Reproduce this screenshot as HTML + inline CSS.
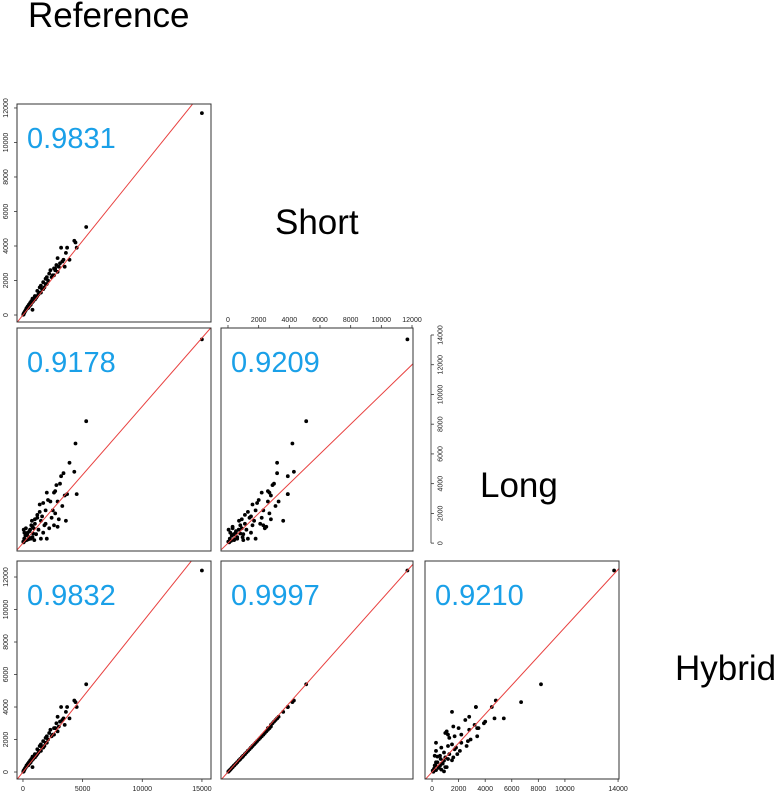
<!DOCTYPE html>
<html><head><meta charset="utf-8">
<style>
html,body{margin:0;padding:0;background:#fff;}
svg{display:block;font-family:"Liberation Sans",Arial,sans-serif;}
</style></head>
<body>
<svg id="chart" width="776" height="798" viewBox="0 0 776 798">
<defs></defs>
<text x="28" y="27" font-size="35" fill="#000">Reference</text>
<text x="275" y="234" font-size="35" fill="#000">Short</text>
<text x="480" y="497" font-size="35" fill="#000">Long</text>
<text x="675" y="680" font-size="35" fill="#000">Hybrid</text>
</svg>
<script>
// data (Reference, Short, Long, Hybrid) per gene
const refVals   = [15000,5300,4400,4300,3700,3900,3400,3200,2900,4500,3500,3100,2700,2600,2800,3300,2300,2500,3600,2100,2000,1900,1700,1600,2200,1800,1500,1400,1300,1200,1100,1000,900,800,700,1500,2600,2900,600,500,400,300,250,200,150,100,50,800,1200,1700,2000,350,450,550,650,750,850,950,120,60,30,1000,1400,1900,2400,2700,3000];
const shortVals = [11700,5100,4200,4300,3900,3200,3200,3900,3300,3900,2800,3000,2600,2700,2900,3100,2600,2300,3600,2000,2200,1800,1900,1500,2400,1600,1700,1300,1200,1400,1000,1100,900,950,800,1300,2300,2500,700,600,500,400,300,250,200,120,80,300,1100,1500,1800,380,420,520,600,720,800,1000,150,40,20,900,1600,2100,2200,2700,2800];
const longVals  = [13700,8200,6700,4800,3300,5400,4700,4500,2800,3300,3200,4000,3500,3400,3900,2500,2800,2200,1500,2900,3400,2200,2700,1800,1000,1200,1500,2100,900,1700,600,1300,1000,400,1200,300,1200,1100,900,400,700,200,1000,500,150,300,50,1100,1900,700,300,600,250,800,300,1500,650,200,700,900,100,1600,2600,1300,1700,2000,1600];
const hybridVals= [12400,5400,4300,4400,4000,3300,3300,4000,3400,4000,2900,3100,2700,2700,3000,3200,2600,2300,3700,2000,2200,1800,1900,1500,2400,1600,1700,1300,1200,1400,1000,1100,900,950,800,1300,2300,2500,700,600,500,400,300,250,200,120,80,300,1100,1500,1800,380,420,520,600,720,800,1000,150,40,20,900,1600,2100,2200,2700,2800];
const corrLabels = ["0.9831","0.9178","0.9209","0.9832","0.9997","0.9210"];
const refTicks = [0,5000,10000,15000];
const shortTicks = [0,2000,4000,6000,8000,10000,12000];
const longTicks = [0,2000,4000,6000,8000,10000,12000,14000];
const longBottomTicks = [0,2000,4000,6000,8000,10000,14000];
const hybridTicks = [0,2000,4000,6000,8000,10000,12000];
const lineSlopes = [0.86,0.92,1.0,0.92,1.06,0.89];

const NS="http://www.w3.org/2000/svg";
const svg=document.getElementById('chart');
function mk(tag,attrs,parent){const e=document.createElementNS(NS,tag);for(const k in attrs)e.setAttribute(k,attrs[k]);(parent||svg).appendChild(e);return e;}

const cols=[{l:17,r:211,d0:-500,d1:15760,v:refVals},{l:221,r:413,d0:-456,d1:12065,v:shortVals},{l:425,r:619,d0:-530,d1:14070,v:longVals}];
const rows=[{t:104,b:322,d0:-405,d1:12230,v:shortVals},{t:328,b:551,d0:-530,d1:14470,v:longVals},{t:561,b:779,d0:-430,d1:12985,v:hybridVals}];
function sx(c,v){return c.l+(v-c.d0)/(c.d1-c.d0)*(c.r-c.l);}
function sy(r,v){return r.b-(v-r.d0)/(r.d1-r.d0)*(r.b-r.t);}
const defs=svg.querySelector('defs');
let k=0;
for(let i=0;i<3;i++){for(let j=0;j<=i;j++){
  const c=cols[j],r=rows[i];
  const g=mk('g',{});
  
  
  const cp=mk('clipPath',{id:'cp'+k},defs);
  mk('rect',{x:c.l,y:r.t,width:c.r-c.l,height:r.b-r.t},cp);
  const pts=mk('g',{'clip-path':'url(#cp'+k+')'},g);
  for(let n=0;n<c.v.length;n++){
    const d=mk('circle',{cx:sx(c,c.v[n]).toFixed(1),cy:sy(r,r.v[n]).toFixed(1),r:1.9,fill:'#000'},pts);
    
    
  }
  const s=lineSlopes[k];
  const ln=mk('line',{x1:sx(c,c.d0),y1:sy(r,c.d0*s),x2:sx(c,c.d1),y2:sy(r,c.d1*s),stroke:'#e8403f','stroke-width':1},pts);
  
  
  const bx=mk('rect',{x:c.l,y:r.t,width:c.r-c.l,height:r.b-r.t,fill:'none',stroke:'#333','stroke-width':1},g);
  
  
  const t=mk('text',{x:c.l+10,y:r.t+44,'font-size':29,fill:'#1aa0e8'},g);
  t.textContent=corrLabels[k];
  
  
  k++;
}}
function yAxis(r,ticks,x,side,name){
  const g=mk('g',{});
  
  
  const dir=side==='left'?-1:1;
  mk('line',{x1:x,y1:sy(r,ticks[0]),x2:x,y2:sy(r,ticks[ticks.length-1]),stroke:'#333','stroke-width':0.8},g);
  ticks.forEach(v=>{const y=sy(r,v);
    mk('line',{x1:x,y1:y,x2:x+dir*3,y2:y,stroke:'#333','stroke-width':0.8},g);
    const tx=x+dir*9;
    const t=mk('text',{x:tx,y:y,'font-size':7,fill:'#222','text-anchor':'middle',transform:'rotate(-90 '+tx+' '+y+')',dy:side==='left'?0:2.5},g);
    t.textContent=v;});
}
function xAxis(c,ticks,y,side,name){
  const g=mk('g',{});
  
  
  const dir=side==='top'?-1:1;
  mk('line',{x1:sx(c,ticks[0]),y1:y,x2:sx(c,ticks[ticks.length-1]),y2:y,stroke:'#333','stroke-width':0.8},g);
  ticks.forEach(v=>{const x=sx(c,v);
    mk('line',{x1:x,y1:y,x2:x,y2:y+dir*3,stroke:'#333','stroke-width':0.8},g);
    const t=mk('text',{x:x,y:side==='top'?y-6:y+12,'font-size':7,fill:'#222','text-anchor':'middle'},g);
    t.textContent=v;});
}
yAxis(rows[0],shortTicks,cols[0].l,'left','y-axis-short');
yAxis(rows[2],hybridTicks,cols[0].l,'left','y-axis-hybrid');
yAxis(rows[1],longTicks,cols[2].l+6,'right','y-axis-long');
xAxis(cols[1],shortTicks,rows[1].t,'top','x-axis-short');
xAxis(cols[0],refTicks,rows[2].b,'bottom','x-axis-reference');
xAxis(cols[2],longBottomTicks,rows[2].b,'bottom','x-axis-long');
</script>
</body></html>
